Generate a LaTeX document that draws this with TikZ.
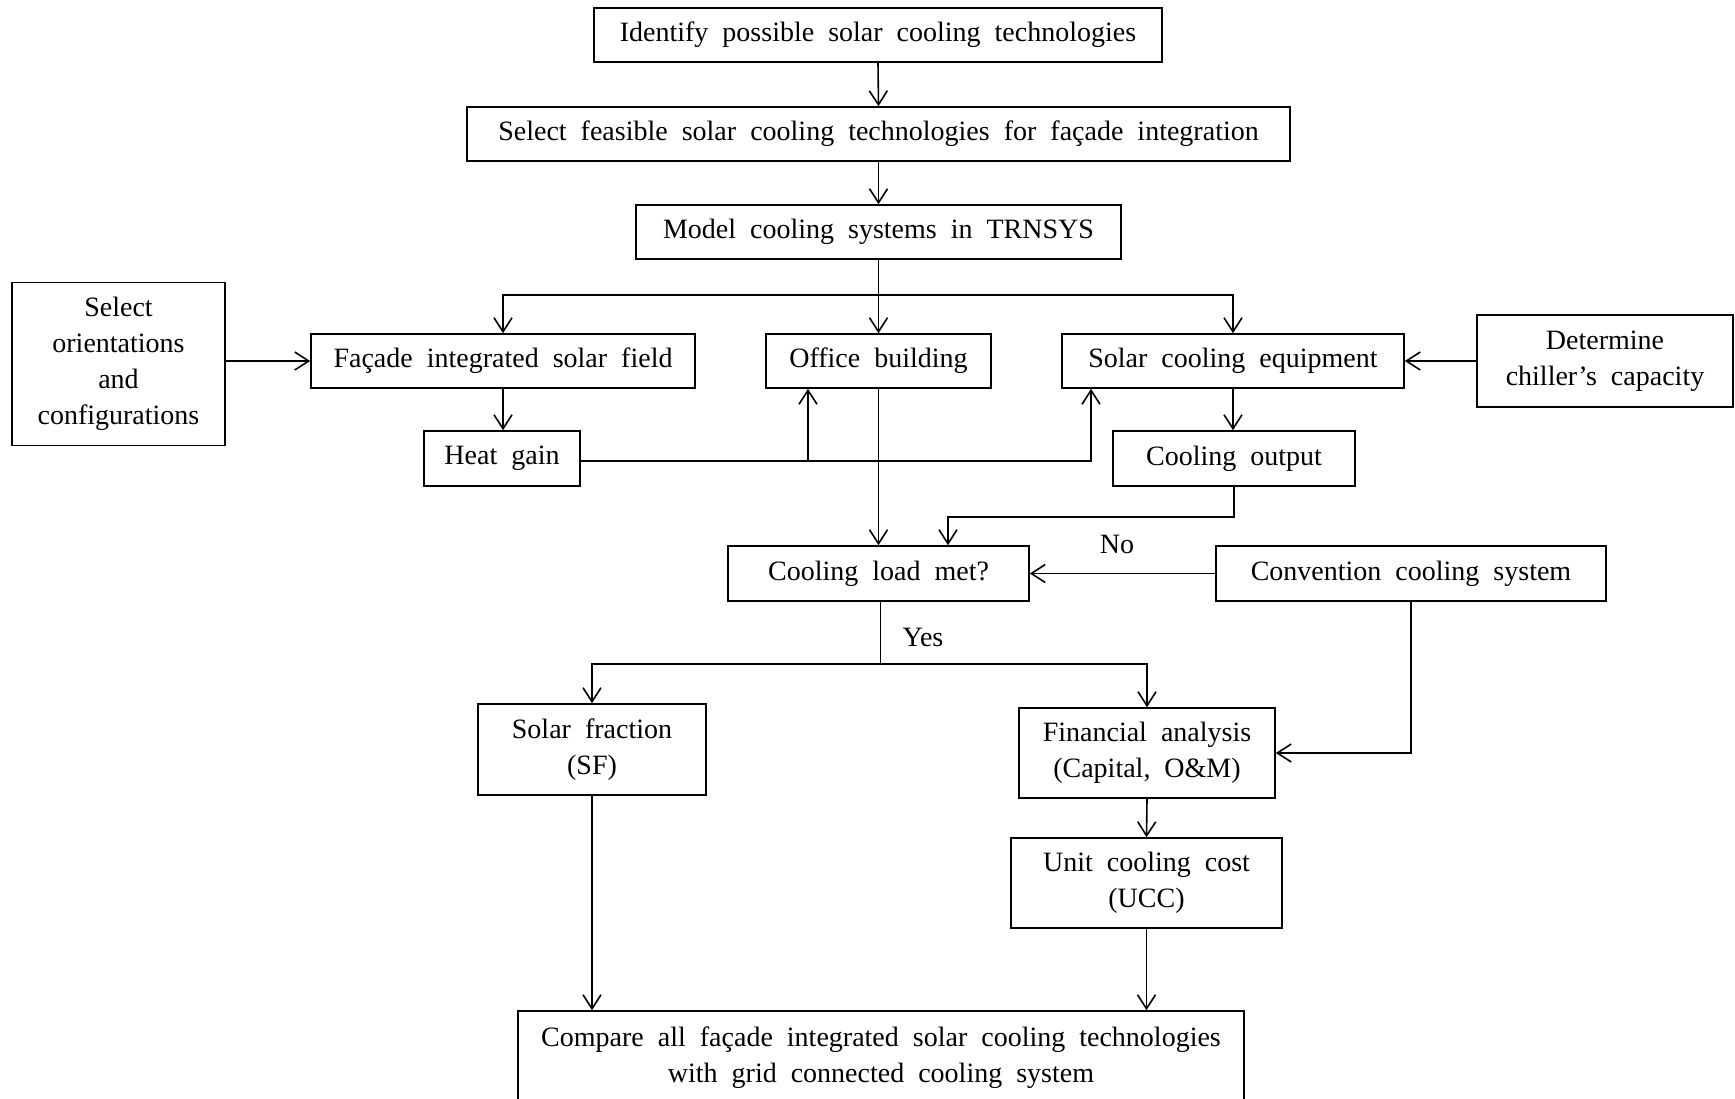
\documentclass[tikz,border=0pt]{standalone}
\usepackage{fontspec}
\setmainfont{Liberation Serif}
\usetikzlibrary{arrows.meta}
\newcommand\myboxfont{\fontsize{14}{18}\selectfont\spaceskip=0.5em plus 0.1em minus 0.1em\relax}
\begin{document}
\begin{tikzpicture}[x=0.5pt,y=-0.5pt,
  box/.style={draw, line width=0.8pt, inner sep=0pt, align=center, font={\myboxfont}},
  wh/.style 2 args={minimum width=#1*0.5pt, minimum height=#2*0.5pt},
  arr/.style={line width=0.8pt, -{Straight Barb[length=7pt,width=9pt,line width=0.8pt]}},
  ln/.style={line width=0.8pt},
  lab/.style={font=\fontsize{14}{18}\selectfont, inner sep=0pt}]
\useasboundingbox (0,0) rectangle (1735,1098);
\clip (0,0) rectangle (1735,1098);

\node[box, wh={568}{54}] (ident) at (878,35) {Identify possible solar cooling technologies};
\node[box, wh={823}{54}] (select) at (878.5,134) {Select feasible solar cooling technologies for façade integration};
\node[box, wh={485}{54}] (model) at (878.5,232) {Model cooling systems in TRNSYS};
\node[box, wh={213}{163}] (orient) at (118.5,364) {Select\\orientations\\and\\configurations};
\node[box, wh={384}{54}] (facade) at (503,361) {Façade integrated solar field};
\node[box, wh={225}{54}] (office) at (878.5,361) {Office building};
\node[box, wh={342}{54}] (sce) at (1233,361) {Solar cooling equipment};
\node[box, wh={256}{92}] (chiller) at (1605,361) {Determine\\chiller’s capacity};
\node[box, wh={156}{55}] (heat) at (502,458.5) {Heat gain};
\node[box, wh={242}{55}] (cout) at (1234,458.5) {Cooling output};
\node[box, wh={301}{55}] (load) at (878.5,573.5) {Cooling load met?};
\node[box, wh={390}{55}] (conv) at (1411,573.5) {Convention cooling system};
\node[box, wh={228}{91}] (sf) at (592,749.5) {Solar fraction\\(SF)};
\node[box, wh={256}{90}] (fin) at (1147,753) {Financial analysis\\(Capital, O\&M)};
\node[box, wh={271}{90}] (ucc) at (1146.5,883) {Unit cooling cost\\(UCC)};
\node[box, wh={726}{94}] (comp) at (881,1058) {Compare all façade integrated solar cooling technologies\\with grid connected cooling system};

\node[lab] (no) at (1117,544) {No};
\node[lab] (yes) at (923,637) {Yes};

\coordinate (b1) at (878.5,295);
\coordinate (hj1) at (808,461);
\coordinate (hj2) at (1091,461);
\coordinate (c1) at (948,517);
\coordinate (b2) at (880.5,664);

\draw[arr] (ident.south) -- (select.north);
\draw[arr] (select.south) -- (model.north);
\draw[ln] (model.south) -- (b1);
\draw[arr] (b1) -| (facade.north);
\draw[arr] (b1) -| (sce.north);
\draw[arr] (b1) -- (office.north);
\draw[arr] (orient.east |- facade.west) -- (facade.west);
\draw[arr] (chiller.west) -- (sce.east);
\draw[arr] (facade.south) -- (facade.south |- heat.north);
\draw[arr] (heat.east |- hj2) -- (hj2) -- (hj2 |- sce.south);
\draw[arr] (hj1) -- (hj1 |- office.south);
\draw[arr] (sce.south) -- (sce.south |- cout.north);
\draw[arr] (office.south) -- (load.north);
\draw[arr] (cout.south) |- (c1) -- (c1 |- load.north);
\draw[arr] (conv.west) -- (load.east);
\draw[ln] (b2 |- load.south) -- (b2);
\draw[arr] (b2) -| (sf.north);
\draw[arr] (b2) -| (fin.north);
\draw[arr] (conv.south) |- (fin.east);
\draw[arr] (fin.south) -- (ucc.north);
\draw[arr] (sf.south) -- (sf.south |- comp.north);
\draw[arr] (ucc.south) -- (ucc.south |- comp.north);
\end{tikzpicture}
\end{document}
